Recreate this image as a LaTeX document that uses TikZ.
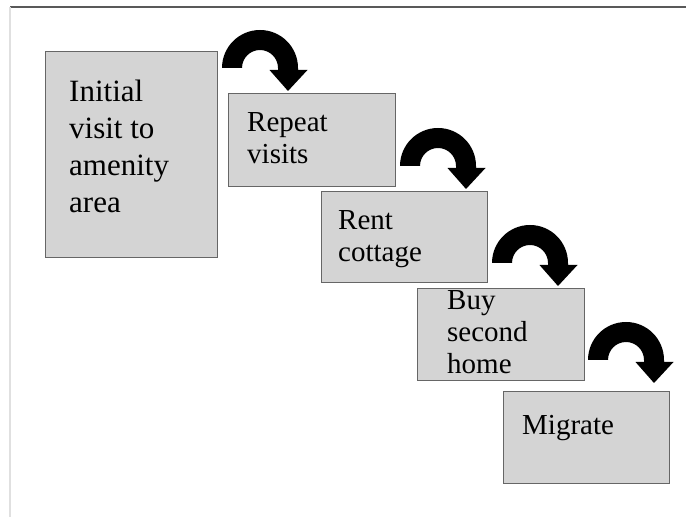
\documentclass[tikz,border=0pt]{standalone}
\usepackage{fontspec}
\setmainfont{Liberation Serif}
\begin{document}
\begin{tikzpicture}[x=1pt,y=1pt,
  box/.style={draw=black!60, fill=black!17, line width=0.9pt, inner sep=0pt},
  bigtxt/.style={anchor=base west, inner sep=0pt, font=\fontsize{31}{36.7}\selectfont},
  smalltxt/.style={anchor=base west, inner sep=0pt, font=\fontsize{29}{31.8}\selectfont},
  barrow/.pic={\fill[black] (-38,0) arc[start angle=180,end angle=0,radius=38]
      -- (38,-2) -- (47.5,-2) -- (28,-23) -- (9.5,-2) -- (18,-2) -- (18,0)
      arc[start angle=0,end angle=180,radius=18] -- cycle;}]
\useasboundingbox (0,0) rectangle (686,517);
\fill[white] (0,0) rectangle (686,517);
% frame lines
\draw[black!65, line width=1.4pt] (10,510) -- (686,510);
\draw[black!12, line width=1.6pt] (10,510) -- (10,0);
% boxes
\node[box, minimum width=172, minimum height=206] (b1) at (131,363) {};
\node[box, minimum width=167, minimum height=93] (b2) at (311.5,377.5) {};
\node[box, minimum width=166, minimum height=91] (b3) at (404,280.5) {};
\node[box, minimum width=167, minimum height=92] (b4) at (500.5,183) {};
\node[box, minimum width=166, minimum height=92] (b5) at (586,80) {};
% texts
\node[bigtxt] (t1) at (69,415) {\vtop{\hbox{Initial}\hbox{visit to}\hbox{amenity}\hbox{area}}};
\node[smalltxt] (t2) at (247,385) {\vtop{\hbox{Repeat}\hbox{visits}}};
\node[smalltxt] (t3) at (338,287) {\vtop{\hbox{Rent}\hbox{cottage}}};
\node[smalltxt] (t4) at (447,207) {\vtop{\hbox{Buy}\hbox{second}\hbox{home}}};
\node[smalltxt] (t5) at (522,82) {Migrate};
% curved block arrows
\coordinate (a1) at (260,449);
\coordinate (a2) at (438,351);
\coordinate (a3) at (530,254);
\coordinate (a4) at (626,157);
\pic at (a1) {barrow};
\pic at (a2) {barrow};
\pic at (a3) {barrow};
\pic at (a4) {barrow};
\end{tikzpicture}
\end{document}
